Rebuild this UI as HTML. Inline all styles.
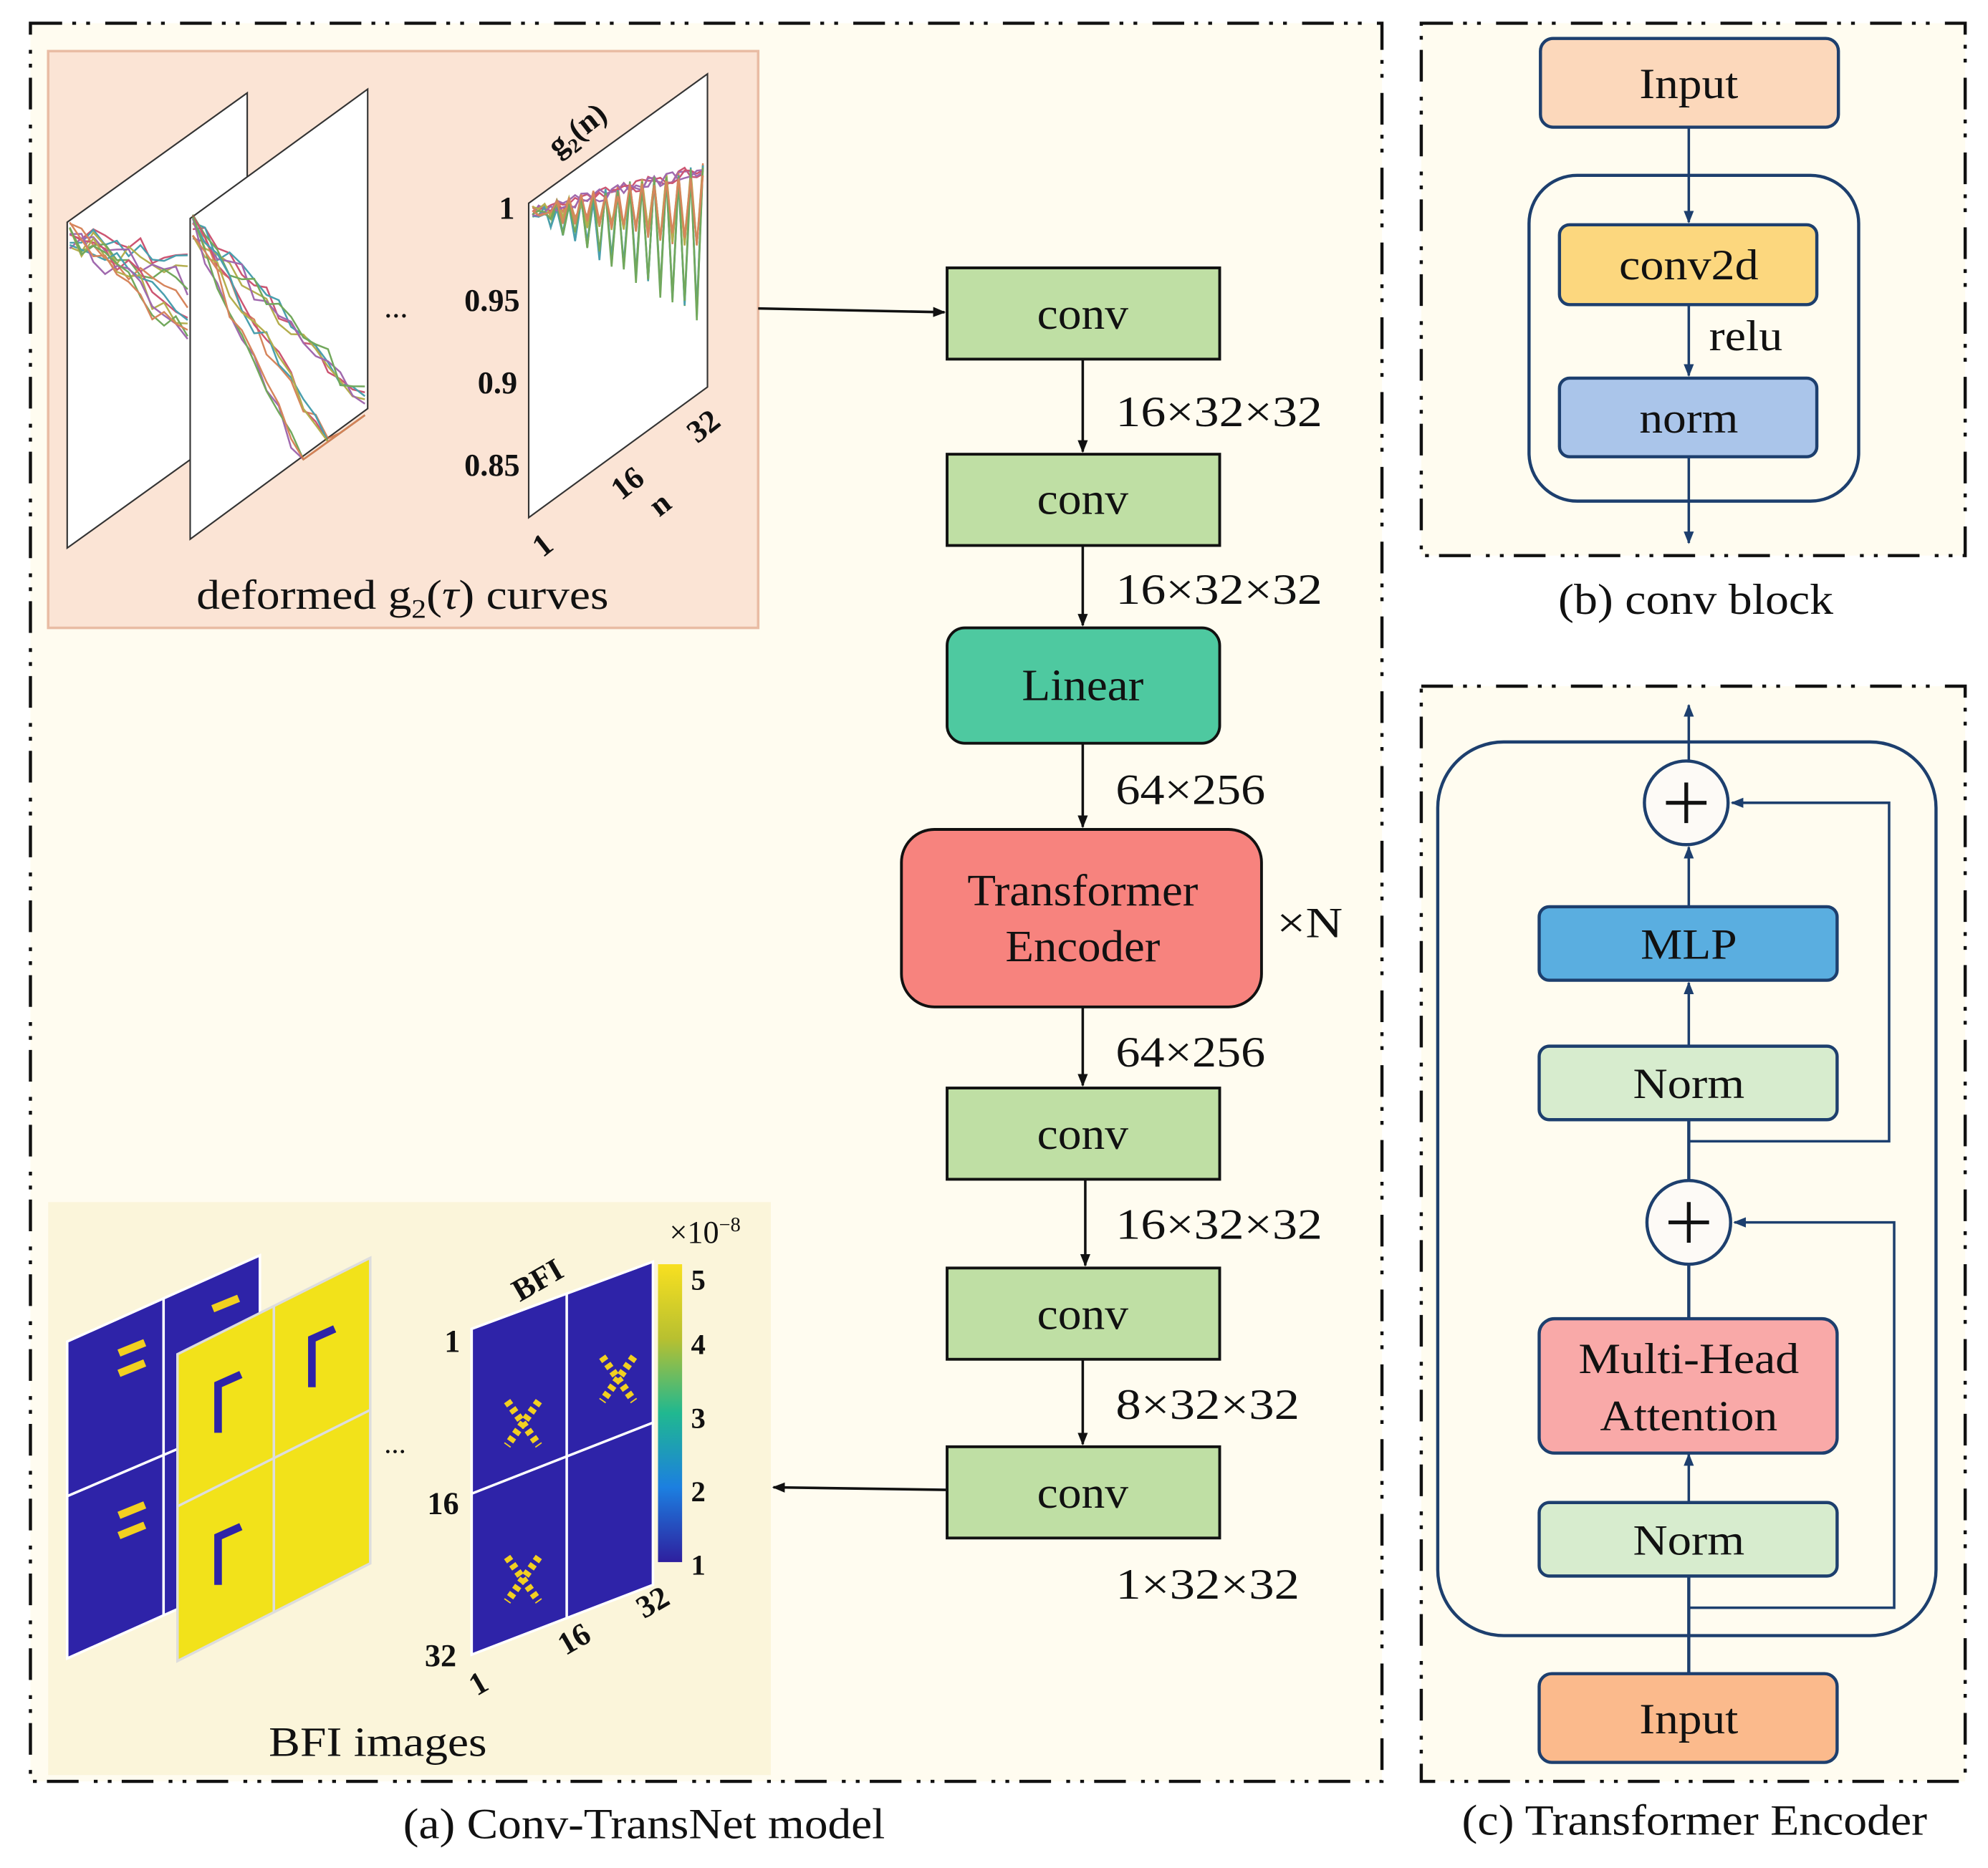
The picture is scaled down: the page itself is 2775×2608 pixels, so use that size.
<!DOCTYPE html>
<html><head><meta charset="utf-8"><style>
html,body{margin:0;padding:0;background:#fff;}
svg{display:block;}
text{font-family:"Liberation Serif",serif;}
</style></head><body>
<svg width="2775" height="2608" viewBox="0 0 1568 1473" xmlns="http://www.w3.org/2000/svg">
<defs>
<marker id="ab" markerWidth="10" markerHeight="10" refX="9" refY="5" orient="auto" markerUnits="userSpaceOnUse"><path d="M0,1 L10,5 L0,9 z" fill="#111"/></marker>
<marker id="an" markerWidth="10" markerHeight="10" refX="9" refY="5" orient="auto" markerUnits="userSpaceOnUse"><path d="M0,1 L10,5 L0,9 z" fill="#1d3f6e"/></marker>
<linearGradient id="cb" x1="0" y1="1" x2="0" y2="0">
<stop offset="0" stop-color="#2e1f9e"/><stop offset="0.25" stop-color="#1c7fe0"/><stop offset="0.5" stop-color="#20b890"/><stop offset="0.75" stop-color="#b8c030"/><stop offset="1" stop-color="#f8e020"/></linearGradient>
</defs>
<rect width="1568" height="1473" fill="#fff"/>
<g stroke="#111" stroke-width="2.5" stroke-dasharray="25 8 3 8 3 12" fill="#fffcf0">
<rect x="24" y="18" width="1066" height="1387"/>
<rect x="1121" y="18" width="429" height="420"/>
<rect x="1121" y="541" width="429" height="864"/>
</g>
<!-- top image panel -->
<rect x="38" y="40" width="560" height="455" fill="#fbe4d5" stroke="#e9bca4" stroke-width="2"/>
<g stroke="#333" stroke-width="1.2" fill="#fff">
<polygon points="53,175 195,73 195,330 53,432"/>
<polygon points="150,172 290,70 290,322 150,425"/>
<polygon points="417,160 558,58 558,305 417,408"/>
</g>
<g id="curves" fill="none" stroke-width="1.4" opacity="0.85"></g>
<g font-size="25" font-weight="bold" fill="#111">
<text x="406" y="172" text-anchor="end">1</text>
<text x="410" y="245" text-anchor="end">0.95</text>
<text x="408" y="310" text-anchor="end">0.9</text>
<text x="410" y="375" text-anchor="end">0.85</text>
<text x="303" y="250" font-weight="normal">...</text>
<text transform="translate(440,124) rotate(-38)">g<tspan font-size="16" dy="6">2</tspan><tspan dy="-6">(n)</tspan></text>
<text transform="translate(428,440) rotate(-38)">1</text>
<text transform="translate(490,395) rotate(-38)">16</text>
<text transform="translate(550,350) rotate(-38)">32</text>
<text transform="translate(520,408) rotate(-38)">n</text>
</g>
<text x="155" y="480" font-size="33" fill="#111" textLength="325" lengthAdjust="spacingAndGlyphs">deformed g<tspan font-size="21" dy="7">2</tspan><tspan dy="-7">(</tspan><tspan font-style="italic">τ</tspan>) curves</text>
<!-- bottom image panel -->
<rect x="38" y="948" width="570" height="452" fill="#fbf5da"/>
<g stroke="#fff" stroke-width="2">
<polygon points="53,1058 205,990 205,1240 53,1308" fill="#2e23a8"/>
<line x1="53" y1="1180" x2="205" y2="1115"/>
<line x1="129" y1="1024" x2="129" y2="1274"/>
<polygon points="140,1068 292,992 292,1233 140,1310" fill="#f2e21a" stroke="#ddd"/>
<line x1="140" y1="1188" x2="292" y2="1112" stroke="#ddd"/>
<line x1="216" y1="1030" x2="216" y2="1272" stroke="#ddd"/>
<polygon points="372,1048 515,995 515,1250 372,1305" fill="#2e23a8"/>
<line x1="372" y1="1178" x2="515" y2="1122"/>
<line x1="447" y1="1020" x2="447" y2="1276"/>
</g>
<g fill="#f2d020">
<rect x="93" y="1060" width="22" height="6" transform="rotate(-22 104 1063)"/>
<rect x="93" y="1076" width="22" height="6" transform="rotate(-22 104 1079)"/>
<rect x="93" y="1188" width="22" height="6" transform="rotate(-22 104 1191)"/>
<rect x="93" y="1204" width="22" height="6" transform="rotate(-22 104 1207)"/>
<rect x="167" y="1025" width="22" height="6" transform="rotate(-22 178 1028)"/>
</g>
<g fill="none" stroke="#2e23a8" stroke-width="6">
<polyline points="172,1130 172,1092 190,1084"/>
<polyline points="246,1094 246,1056 264,1048"/>
<polyline points="172,1250 172,1212 190,1204"/>
</g>
<g stroke="#f2d020" stroke-width="6" stroke-dasharray="4 3">
<line x1="400" y1="1105" x2="425" y2="1140"/><line x1="425" y1="1105" x2="400" y2="1140"/>
<line x1="475" y1="1070" x2="500" y2="1105"/><line x1="500" y1="1070" x2="475" y2="1105"/>
<line x1="400" y1="1228" x2="425" y2="1263"/><line x1="425" y1="1228" x2="400" y2="1263"/>
</g>
<rect x="519" y="997" width="19" height="235" fill="url(#cb)"/>
<g font-size="23" font-weight="bold" fill="#111">
<text x="545" y="1017">5</text><text x="545" y="1068">4</text><text x="545" y="1126">3</text><text x="545" y="1184">2</text><text x="545" y="1242">1</text>
<text x="363" y="1066" text-anchor="end" font-size="25">1</text>
<text x="362" y="1194" text-anchor="end" font-size="25">16</text>
<text x="360" y="1314" text-anchor="end" font-size="25">32</text>
<text transform="translate(376,1338) rotate(-30)" font-size="25">1</text>
<text transform="translate(446,1306) rotate(-30)" font-size="25">16</text>
<text transform="translate(508,1277) rotate(-30)" font-size="25">32</text>
<text transform="translate(410,1027) rotate(-30)" font-size="25">BFI</text>
<text x="303" y="1146" font-weight="normal">...</text>
</g>
<text x="528" y="980" font-size="25" fill="#111">×10<tspan font-size="16" dy="-9">−8</tspan></text>
<text x="212" y="1385" font-size="33" fill="#111" textLength="172" lengthAdjust="spacingAndGlyphs">BFI images</text>
<!-- main flow -->
<g stroke="#111" stroke-width="2.2">
<rect x="747" y="211" width="215" height="72" fill="#bfdfa4"/>
<rect x="747" y="358" width="215" height="72" fill="#bfdfa4"/>
<rect x="747" y="495" width="215" height="91" rx="14" fill="#4ec9a0"/>
<rect x="711" y="654" width="284" height="140" rx="26" fill="#f7837e"/>
<rect x="747" y="858" width="215" height="72" fill="#bfdfa4"/>
<rect x="747" y="1000" width="215" height="72" fill="#bfdfa4"/>
<rect x="747" y="1141" width="215" height="72" fill="#bfdfa4"/>
</g>
<g stroke="#111" stroke-width="2" marker-end="url(#ab)">
<line x1="598" y1="243" x2="745" y2="246"/>
<line x1="854" y1="283" x2="854" y2="356"/>
<line x1="854" y1="430" x2="854" y2="493"/>
<line x1="854" y1="586" x2="854" y2="652"/>
<line x1="854" y1="794" x2="854" y2="856"/>
<line x1="856" y1="930" x2="856" y2="998"/>
<line x1="854" y1="1072" x2="854" y2="1139"/>
<line x1="746" y1="1175" x2="610" y2="1173"/>
</g>
<g font-size="35" fill="#111" text-anchor="middle">
<text x="854" y="259" textLength="72" lengthAdjust="spacingAndGlyphs">conv</text>
<text x="854" y="405" textLength="72" lengthAdjust="spacingAndGlyphs">conv</text>
<text x="854" y="552" textLength="96" lengthAdjust="spacingAndGlyphs">Linear</text>
<text x="854" y="714" textLength="182" lengthAdjust="spacingAndGlyphs">Transformer</text>
<text x="854" y="758" textLength="122" lengthAdjust="spacingAndGlyphs">Encoder</text>
<text x="854" y="906" textLength="72" lengthAdjust="spacingAndGlyphs">conv</text>
<text x="854" y="1048" textLength="72" lengthAdjust="spacingAndGlyphs">conv</text>
<text x="854" y="1189" textLength="72" lengthAdjust="spacingAndGlyphs">conv</text>
</g>
<g font-size="34" fill="#111" lengthAdjust="spacingAndGlyphs">
<text x="880" y="336" textLength="163" lengthAdjust="spacingAndGlyphs">16×32×32</text>
<text x="880" y="476" textLength="163" lengthAdjust="spacingAndGlyphs">16×32×32</text>
<text x="880" y="634" textLength="118" lengthAdjust="spacingAndGlyphs">64×256</text>
<text x="880" y="841" textLength="118" lengthAdjust="spacingAndGlyphs">64×256</text>
<text x="880" y="977" textLength="163" lengthAdjust="spacingAndGlyphs">16×32×32</text>
<text x="880" y="1119" textLength="145" lengthAdjust="spacingAndGlyphs">8×32×32</text>
<text x="880" y="1261" textLength="145" lengthAdjust="spacingAndGlyphs">1×32×32</text>
<text x="1007" y="739" textLength="52" lengthAdjust="spacingAndGlyphs">×N</text>
</g>
<g font-size="34" fill="#111">
<text x="318" y="1450" textLength="380" lengthAdjust="spacingAndGlyphs">(a) Conv-TransNet model</text>
<text x="1229" y="484" textLength="217" lengthAdjust="spacingAndGlyphs">(b) conv block</text>
<text x="1153" y="1447" textLength="367" lengthAdjust="spacingAndGlyphs">(c) Transformer Encoder</text>
</g>
<!-- (b) -->
<g stroke="#1d3f6e" stroke-width="2.5">
<rect x="1206" y="138" width="260" height="257" rx="38" fill="none"/>
<rect x="1215" y="30" width="235" height="70" rx="10" fill="#fcd8bb"/>
<rect x="1230" y="177" width="203" height="63" rx="8" fill="#fcd77e"/>
<rect x="1230" y="298" width="203" height="62" rx="8" fill="#aac5ea"/>
</g>
<g stroke="#1d3f6e" stroke-width="2" marker-end="url(#an)">
<line x1="1332" y1="100" x2="1332" y2="175"/>
<line x1="1332" y1="240" x2="1332" y2="296"/>
<line x1="1332" y1="360" x2="1332" y2="428"/>
</g>
<g font-size="34" fill="#111" text-anchor="middle">
<text x="1332" y="77" textLength="78" lengthAdjust="spacingAndGlyphs">Input</text>
<text x="1332" y="220" textLength="110" lengthAdjust="spacingAndGlyphs">conv2d</text>
<text x="1332" y="341" textLength="78" lengthAdjust="spacingAndGlyphs">norm</text>
<text x="1377" y="276" textLength="58" lengthAdjust="spacingAndGlyphs">relu</text>
</g>
<!-- (c) -->
<g stroke="#1d3f6e" stroke-width="2.5" fill="none">
<rect x="1134" y="585" width="393" height="705" rx="52"/>
<polyline points="1332,900 1490,900 1490,633 1366,633" marker-end="url(#an)" stroke-width="2"/>
<polyline points="1332,1268 1494,1268 1494,964 1368,964" marker-end="url(#an)" stroke-width="2"/>
<line x1="1332" y1="1320" x2="1332" y2="1243"/>
<line x1="1332" y1="1040" x2="1332" y2="997"/>
<line x1="1332" y1="931" x2="1332" y2="883"/>
</g>
<g stroke="#1d3f6e" stroke-width="2" marker-end="url(#an)">
<line x1="1332" y1="1185" x2="1332" y2="1147"/>
<line x1="1332" y1="825" x2="1332" y2="775"/>
<line x1="1332" y1="715" x2="1332" y2="668"/>
<line x1="1332" y1="600" x2="1332" y2="556"/>
</g>
<g stroke="#1d3f6e" stroke-width="2.5">
<circle cx="1330" cy="633" r="33" fill="#fdfaf6"/>
<circle cx="1332" cy="964" r="33" fill="#fdfaf6"/>
<rect x="1214" y="715" width="235" height="58" rx="8" fill="#5aaee0"/>
<rect x="1214" y="825" width="235" height="58" rx="8" fill="#d7ecce"/>
<rect x="1214" y="1040" width="235" height="106" rx="12" fill="#f9a9a8"/>
<rect x="1214" y="1185" width="235" height="58" rx="8" fill="#d7ecce"/>
<rect x="1214" y="1320" width="235" height="70" rx="10" fill="#fbba8c"/>
</g>
<g stroke="#111" stroke-width="3">
<line x1="1314" y1="633" x2="1346" y2="633"/><line x1="1330" y1="617" x2="1330" y2="649"/>
<line x1="1316" y1="964" x2="1348" y2="964"/><line x1="1332" y1="948" x2="1332" y2="980"/>
</g>
<g font-size="34" fill="#111" text-anchor="middle">
<text x="1332" y="756" textLength="76" lengthAdjust="spacingAndGlyphs">MLP</text>
<text x="1332" y="866" textLength="88" lengthAdjust="spacingAndGlyphs">Norm</text>
<text x="1332" y="1083" textLength="174" lengthAdjust="spacingAndGlyphs">Multi-Head</text>
<text x="1332" y="1128" textLength="140" lengthAdjust="spacingAndGlyphs">Attention</text>
<text x="1332" y="1226" textLength="88" lengthAdjust="spacingAndGlyphs">Norm</text>
<text x="1332" y="1367" textLength="78" lengthAdjust="spacingAndGlyphs">Input</text>
</g>
<script>
(function(){
var g=document.getElementById('curves');var cols=['#c4385a','#2a8fa0','#a8a030','#9050a0','#5a9a40','#d07040'];
var s=7;function r(){s=(s*9301+49297)%233280;return s/233280;}
function add(pts,c){var p=document.createElementNS('http://www.w3.org/2000/svg','polyline');p.setAttribute('points',pts.join(' '));p.setAttribute('stroke',c);g.appendChild(p);}
// panel 1: x 55-148, start y ~185
for(var k=0;k<12;k++){var pts=[];for(var i=0;i<=10;i++){var x=55+i*9.3;var y=185-(x-55)*0.0+i*(2+k*0.6)+(r()-0.5)*22;pts.push(x.toFixed(1)+','+y.toFixed(1));}add(pts,cols[k%6]);}
// panel 2: x 152-288 start ~178 going down
for(var k=0;k<12;k++){var pts=[];for(var i=0;i<=14;i++){var x=152+i*9.7;var slope=k<5?1.0:(k<9?1.6:2.2);var y=178+i*9.7*slope+(r()-0.5)*20;if(y>330+(x-152)*(-0.72)+95)y=330+(x-152)*(-0.72)+95;pts.push(x.toFixed(1)+','+y.toFixed(1));}add(pts,cols[k%6]);}
// panel 3: x 420-556 start ~165
for(var k=0;k<12;k++){var pts=[];for(var i=0;i<=28;i++){var x=420+i*4.8;var top=165-(x-420)*0.25;var amp=(k%3==0?0:(k%3==1?1:0.5))*(i%2)*(i*4.2);var y=top+(r()-0.3)*10+amp;pts.push(x.toFixed(1)+','+y.toFixed(1));}add(pts,cols[k%6]);}
})();
</script>
</svg>
</body></html>
